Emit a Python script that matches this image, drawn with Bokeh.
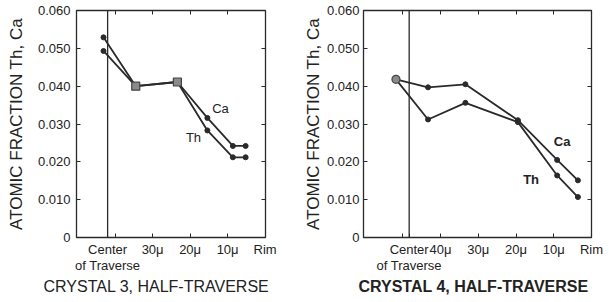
from bokeh.plotting import figure
from bokeh.models import Range1d, FixedTicker, LinearAxis, Span, Title
from bokeh.layouts import row
from bokeh.embed import file_html
from bokeh.resources import INLINE
from bokeh.core.properties import value

FONT = "Liberation Sans"
INK = "#2a2a2a"

# ---- data (x = distance from rim in microns) ----
y_ticks = [0.0, 0.01, 0.02, 0.03, 0.04, 0.05, 0.06]
y_tick_labels = ["0", "0.010", "0.020", "0.030", "0.040", "0.050", "0.060"]

c3_x = [43.1, 34.5, 23.4, 15.4, 8.6, 5.2]
c3_ca = [0.0529, 0.0400, 0.0411, 0.0316, 0.0242, 0.0242]
c3_th = [0.0493, 0.0400, 0.0411, 0.0283, 0.0212, 0.0212]
c3_shared_x = [34.5, 23.4]
c3_shared_y = [0.0400, 0.0411]
c3_center = 42.0
c3_xticks = [42.0, 30.0, 20.0, 10.0, 0.0]
c3_xlabels = ["Center\nof Traverse", "30\u03bc", "20\u03bc", "10\u03bc", "Rim"]
c3_minor = [40.0]
c3_top = [40.0, 30.0, 20.0, 10.0]

c4_x = [51.8, 43.3, 33.4, 19.5, 9.1, 3.6]
c4_ca = [0.0418, 0.0397, 0.0405, 0.0310, 0.0205, 0.0151]
c4_th = [0.0418, 0.0312, 0.0356, 0.0305, 0.0164, 0.0107]
c4_shared_x = [51.8]
c4_shared_y = [0.0418]
c4_center = 48.3
c4_xticks = [48.3, 40.0, 30.0, 20.0, 10.0, 0.0]
c4_xlabels = ["Center\nof Traverse", "40\u03bc", "30\u03bc", "20\u03bc", "10\u03bc", "Rim"]
c4_minor = [50.0]
c4_top = [50.0, 40.0, 30.0, 20.0, 10.0]

y_title = "ATOMIC FRACTION Th, Ca"


def panel(width, height, bl, bt, br, bb, xr, x, ca, th, sx, sy, center, xticks, xlabels,
          minor, top, title, title_offset, title_standoff, ca_pos, th_pos, shared_marker,
          bold, ylab_standoff, ytick_standoff):
    weight = "bold" if bold else "normal"
    p = figure(width=width, height=height, x_range=Range1d(*xr), y_range=Range1d(0, 0.06),
               output_backend="svg", toolbar_location=None, min_border_left=bl,
               min_border_top=bt, min_border_right=br, min_border_bottom=bb)
    p.grid.visible = False
    p.outline_line_color = INK
    p.outline_line_width = 1.3
    p.background_fill_color = "white"
    p.border_fill_color = "white"

    # y axis
    ya = p.yaxis[0]
    ya.ticker = FixedTicker(ticks=y_ticks)
    ya.major_label_overrides = {t: l for t, l in zip(y_ticks, y_tick_labels)}
    ya.major_tick_in = 4
    ya.major_tick_out = 0
    ya.minor_tick_in = 0
    ya.minor_tick_out = 0
    ya.axis_line_color = INK
    ya.major_tick_line_color = INK
    ya.major_label_text_font = FONT
    ya.major_label_text_font_size = "13px"
    ya.major_label_text_color = "#222222"
    ya.major_label_standoff = ytick_standoff
    ya.axis_label = y_title
    ya.axis_label_text_font = FONT
    ya.axis_label_text_font_size = "17px"
    ya.axis_label_text_font_style = "normal"
    ya.axis_label_text_color = "#222222"
    ya.axis_label_standoff = ylab_standoff

    # x axis
    xa = p.xaxis[0]
    xa.ticker = FixedTicker(ticks=xticks, minor_ticks=minor)
    xa.major_label_overrides = {t: l for t, l in zip(xticks, xlabels)}
    xa.major_tick_in = 4
    xa.major_tick_out = 0
    xa.minor_tick_in = 4
    xa.minor_tick_out = 0
    xa.axis_line_color = INK
    xa.major_tick_line_color = INK
    xa.minor_tick_line_color = INK
    xa.major_label_text_font = FONT
    xa.major_label_text_font_size = "13px"
    xa.major_label_text_line_height = 1.08
    xa.major_label_text_color = "#222222"
    xa.major_label_standoff = 4

    # mirrored inward ticks on top and right
    ta = LinearAxis(ticker=FixedTicker(ticks=top), major_tick_in=4, major_tick_out=0,
                    minor_tick_in=0, minor_tick_out=0, major_label_text_font_size="0px",
                    major_label_standoff=0, axis_line_color=INK, major_tick_line_color=INK)
    p.add_layout(ta, "above")
    ra = LinearAxis(ticker=FixedTicker(ticks=y_ticks[1:-1]), major_tick_in=4, major_tick_out=0,
                    minor_tick_in=0, minor_tick_out=0, major_label_text_font_size="0px",
                    major_label_standoff=0, axis_line_color=INK, major_tick_line_color=INK)
    p.add_layout(ra, "right")

    p.add_layout(Span(location=center, dimension="height", line_color=INK, line_width=1.3))

    p.line(x, ca, line_color=INK, line_width=1.8)
    p.line(x, th, line_color=INK, line_width=1.8)
    p.scatter(x, ca, size=5, color=INK)
    p.scatter(x, th, size=5, color=INK)
    p.scatter(sx, sy, marker=shared_marker, size=8, fill_color="#8a8a8a",
              line_color="#444444", line_width=1.2)

    p.text(x=[ca_pos[0]], y=[ca_pos[1]], text=["Ca"], text_font=value(FONT),
           text_font_size="13px", text_font_style=weight, text_align="center",
           text_baseline="middle", text_color="#222222")
    p.text(x=[th_pos[0]], y=[th_pos[1]], text=["Th"], text_font=value(FONT),
           text_font_size="13px", text_font_style=weight, text_align="center",
           text_baseline="middle", text_color="#222222")

    p.add_layout(Title(text=title, align="left", offset=title_offset,
                       standoff=title_standoff, text_font=FONT, text_font_size="16px",
                       text_font_style=weight, text_color="#222222"), "below")
    return p


p1 = panel(298, 302, 76, 10, 33, 65, (50.3, -0.1), c3_x, c3_ca, c3_th,
           c3_shared_x, c3_shared_y, c3_center, c3_xticks, c3_xlabels, c3_minor, c3_top,
           "CRYSTAL 3, HALF-TRAVERSE", -33, 0, (11.9, 0.0341), (19.1, 0.0264),
           "square", False, 9, 6)

p2 = panel(311, 302, 65, 10, 18, 65, (60.4, 0.0), c4_x, c4_ca, c4_th,
           c4_shared_x, c4_shared_y, c4_center, c4_xticks, c4_xlabels, c4_minor, c4_top,
           "CRYSTAL 4, HALF-TRAVERSE", -5, 0, (7.8, 0.0253), (16.0, 0.0153),
           "circle", True, 1, 4)

layout = row(p1, p2)
open("out.html", "w").write(file_html(layout, INLINE))
